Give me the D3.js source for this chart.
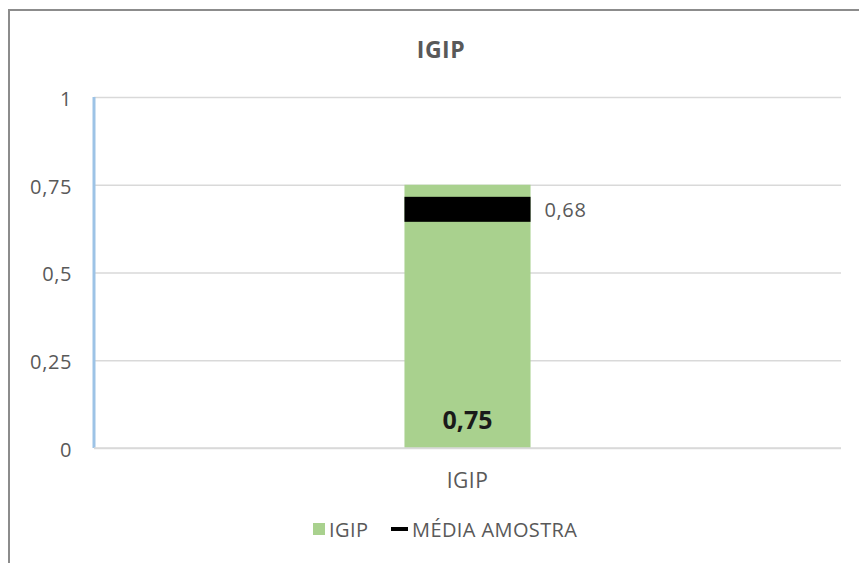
<!DOCTYPE html>
<html>
<head>
<meta charset="utf-8">
<script src="https://cdn.jsdelivr.net/npm/d3@7"></script>
<style>
  body { margin: 0; background: #fff; }
  text { font-family: "Open Sans", Lato, sans-serif; fill: #595959; }
</style>
</head>
<body>
<svg id="chart" width="859" height="563"></svg>
<script>
const categories = ['IGIP'];
const igipValues = [0.75];
const mediaAmostra = [0.68];
const yTicks = [0, 0.25, 0.5, 0.75, 1];
const yTickLabels = ['0', '0,25', '0,5', '0,75', '1'];
const legendLabels = ['IGIP', 'MÉDIA AMOSTRA'];

const fmt = v => String(v).replace('.', ',');

const svg = d3.select('#chart');
const margin = { top: 97, right: 18, bottom: 115, left: 94 };
const width = +svg.attr('width') - margin.left - margin.right;
const height = +svg.attr('height') - margin.top - margin.bottom;

// chart frame (runs off the right/bottom edge)
svg.append('rect')
  .attr('x', 9).attr('y', 10)
  .attr('width', 900).attr('height', 600)
  .attr('fill', 'none')
  .attr('stroke', '#8c8c8c')
  .attr('stroke-width', 2);

svg.append('text')
  .attr('x', 441).attr('y', 58)
  .attr('text-anchor', 'middle')
  .style('font-size', '23px')
  .style('font-weight', 'bold')
  .style('letter-spacing', '0.5px')
  .text('IGIP');

const x = d3.scaleBand().domain(categories).range([0, width]).paddingInner(0.2).paddingOuter(1.97);
const y = d3.scaleLinear().domain([0, 1]).range([height, 0]);

const g = svg.append('g')
  .attr('transform', 'translate(' + margin.left + ',' + margin.top + ')');

// gridlines + y labels
const yAxis = g.append('g')
  .attr('class', 'axis axis-y')
  .call(d3.axisLeft(y).tickValues(yTicks).tickSize(-width).tickFormat((d, i) => yTickLabels[i]));
yAxis.select('.domain').remove();
yAxis.selectAll('.tick line').attr('stroke', '#d9d9d9').attr('stroke-width', 1.5);
yAxis.selectAll('.tick text')
  .attr('x', -22)
  .attr('dy', '0.42em')
  .style('font-family', '"Open Sans", sans-serif')
  .style('font-size', '20px')
  .style('letter-spacing', '0.6px')
  .style('fill', '#595959');

// bars
g.selectAll('.bar')
  .data(igipValues)
  .enter().append('rect')
  .attr('class', 'bar')
  .attr('x', (d, i) => x(categories[i]))
  .attr('y', d => y(d))
  .attr('width', x.bandwidth())
  .attr('height', d => height - y(d))
  .attr('fill', '#a9d18e');

// bar value labels
g.selectAll('.bar-label')
  .data(igipValues)
  .enter().append('text')
  .attr('x', (d, i) => x(categories[i]) + x.bandwidth() / 2)
  .attr('y', height - 19)
  .attr('text-anchor', 'middle')
  .style('font-size', '25px')
  .style('font-weight', 'bold')
  .style('fill', '#1a1a1a')
  .text(d => fmt(d));

// sample mean marker
g.selectAll('.mean')
  .data(mediaAmostra)
  .enter().append('rect')
  .attr('x', (d, i) => x(categories[i]))
  .attr('y', d => y(d) - 12.5)
  .attr('width', x.bandwidth())
  .attr('height', 25)
  .attr('fill', '#000');

g.selectAll('.mean-label')
  .data(mediaAmostra)
  .enter().append('text')
  .attr('x', (d, i) => x(categories[i]) + x.bandwidth() + 14)
  .attr('y', d => y(d) + 8)
  .style('font-size', '20px')
  .style('letter-spacing', '0.6px')
  .text(d => fmt(d));

// y axis line (blue)
g.append('line')
  .attr('x1', 0).attr('x2', 0)
  .attr('y1', 0).attr('y2', height)
  .attr('stroke', '#9dc3e6')
  .attr('stroke-width', 3);

// baseline
g.append('line')
  .attr('x1', 0).attr('x2', width)
  .attr('y1', height).attr('y2', height)
  .attr('stroke', '#d9d9d9')
  .attr('stroke-width', 1.5);

// x axis labels
const xAxis = g.append('g')
  .attr('transform', 'translate(0,' + height + ')')
  .call(d3.axisBottom(x).tickSize(0).tickPadding(0));
xAxis.select('.domain').remove();
xAxis.selectAll('text')
  .attr('dy', 0)
  .attr('y', 40)
  .style('font-family', '"Open Sans", sans-serif')
  .style('font-size', '21px')
  .style('letter-spacing', '0.5px')
  .style('fill', '#595959');

// legend
const legend = svg.append('g').attr('transform', 'translate(0,537)');
legend.append('rect')
  .attr('x', 313).attr('y', -14).attr('width', 12).attr('height', 12)
  .attr('fill', '#a9d18e');
legend.append('text')
  .attr('x', 329).attr('y', 0)
  .style('font-size', '20px')
  .style('letter-spacing', '0.4px')
  .text(legendLabels[0]);
legend.append('rect')
  .attr('x', 391).attr('y', -10).attr('width', 17).attr('height', 4)
  .attr('fill', '#000');
legend.append('text')
  .attr('x', 412).attr('y', 0)
  .style('font-size', '20px')
  .style('letter-spacing', '0.4px')
  .text(legendLabels[1]);
</script>
</body>
</html>
